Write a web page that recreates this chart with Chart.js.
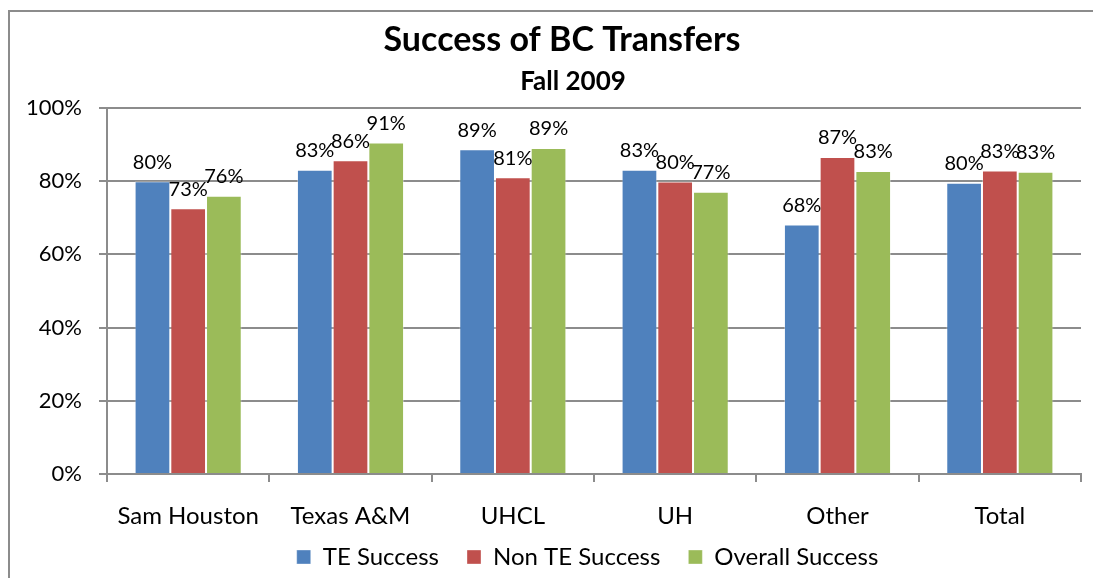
<!DOCTYPE html>
<html><head><meta charset="utf-8">
<script src="https://cdn.jsdelivr.net/npm/chart.js@4.4.0/dist/chart.umd.min.js"></script>
<style>
html,body{margin:0;padding:0;background:#fff;}
#wrap{position:relative;width:1093px;height:578px;overflow:hidden;}
#frame{position:absolute;left:8px;top:10px;width:1200px;height:620px;border:2px solid #8c8c8c;box-sizing:border-box;}
canvas{position:absolute;left:0;top:0;}
</style></head><body>
<div id="wrap"><div id="frame"></div><canvas id="c" width="1093" height="578"></canvas></div>
<script>
const categories = ['Sam Houston', 'Texas A&M', 'UHCL', 'UH', 'Other', 'Total'];
const seriesNames = ['TE Success', 'Non TE Success', 'Overall Success'];
const teSuccess = [0.800, 0.831, 0.887, 0.831, 0.682, 0.796];
const nonTeSuccess = [0.726, 0.857, 0.811, 0.799, 0.866, 0.829];
const overallSuccess = [0.760, 0.906, 0.891, 0.771, 0.828, 0.826];
const yTicks = [0, 0.2, 0.4, 0.6, 0.8, 1.0];
const seriesColors = ['#4F81BD', '#C0504D', '#9BBB59'];

const FONT = 'Lato, "Open Sans", sans-serif';
Chart.defaults.font.family = FONT;
Chart.defaults.color = '#000';

const valueLabels = {
  id: 'valueLabels',
  afterDatasetsDraw(chart) {
    const ctx = chart.ctx;
    ctx.save();
    ctx.font = '20px ' + FONT;
    ctx.fillStyle = '#000';
    ctx.textAlign = 'center';
    ctx.textBaseline = 'middle';
    chart.data.datasets.forEach((ds, i) => {
      chart.getDatasetMeta(i).data.forEach((bar, j) => {
        ctx.fillText(Math.round(ds.data[j] * 100) + '%', bar.x, bar.y - 19);
      });
    });
    ctx.restore();
  }
};

// re-centre the title, subtitle and legend like the original layout
const shiftBoxes = {
  id: 'shiftBoxes',
  afterLayout(chart) {
    chart.boxes.forEach(b => {
      if (b.position === 'top' && b.options && typeof b.options.text === 'string') {
        b.left = (b === chart.titleBlock) ? 43 : 65;
      }
    });
    if (chart.legend) {
      chart.legend.left = 94;
      chart.legend.top = 517;
    }
  }
};

function build() {
  const gridColor = '#8c8c8c';
  new Chart(document.getElementById('c'), {
    type: 'bar',
    data: {
      labels: categories,
      datasets: [teSuccess, nonTeSuccess, overallSuccess].map((d, i) => ({
        label: seriesNames[i],
        data: d,
        backgroundColor: seriesColors[i],
        borderColor: 'rgba(255,255,255,0.35)',
        borderWidth: 1,
        categoryPercentage: 0.66,
        barPercentage: 1.0
      }))
    },
    options: {
      responsive: false,
      animation: false,
      events: [],
      layout: { padding: { left: 0, right: 12, top: 0, bottom: 0 } },
      plugins: {
        title: { display: true, text: 'Success of BC Transfers', color: '#000',
          font: { size: 34, weight: 'bold' }, padding: { top: 20, bottom: 0 } },
        subtitle: { display: true, text: 'Fall 2009', color: '#000',
          font: { size: 26, weight: 'bold' }, padding: { top: 5.6, bottom: 10.4 } },
        legend: { position: 'bottom', maxHeight: 42,
          labels: { boxWidth: 14, boxHeight: 14, font: { size: 24 }, padding: 28, color: '#000' } },
        tooltip: { enabled: false }
      },
      scales: {
        x: {
          grid: { display: true, drawOnChartArea: false, drawTicks: true, tickLength: 8,
            offset: true, color: gridColor, lineWidth: 2 },
          border: { display: true, color: gridColor, width: 2 },
          ticks: { font: { size: 24 }, padding: 19.5, color: '#000', maxRotation: 0 },
          afterFit(s) { s.height = 62; }
        },
        y: {
          min: 0, max: 1,
          afterBuildTicks(s) { s.ticks = yTicks.map(v => ({ value: v })); },
          grid: { color: gridColor, lineWidth: 2, tickLength: 8 },
          border: { display: true, color: gridColor, width: 2 },
          ticks: { font: { size: 22 }, padding: 17, color: '#000',
            callback: v => Math.round(v * 100) + '%' },
          afterFit(s) { s.width = 107; }
        }
      }
    },
    plugins: [valueLabels, shiftBoxes]
  });
}
if (document.fonts && document.fonts.load) {
  Promise.all([document.fonts.load('22px Lato'), document.fonts.load('bold 22px Lato')]).then(build, build);
} else build();
</script>
</body></html>
